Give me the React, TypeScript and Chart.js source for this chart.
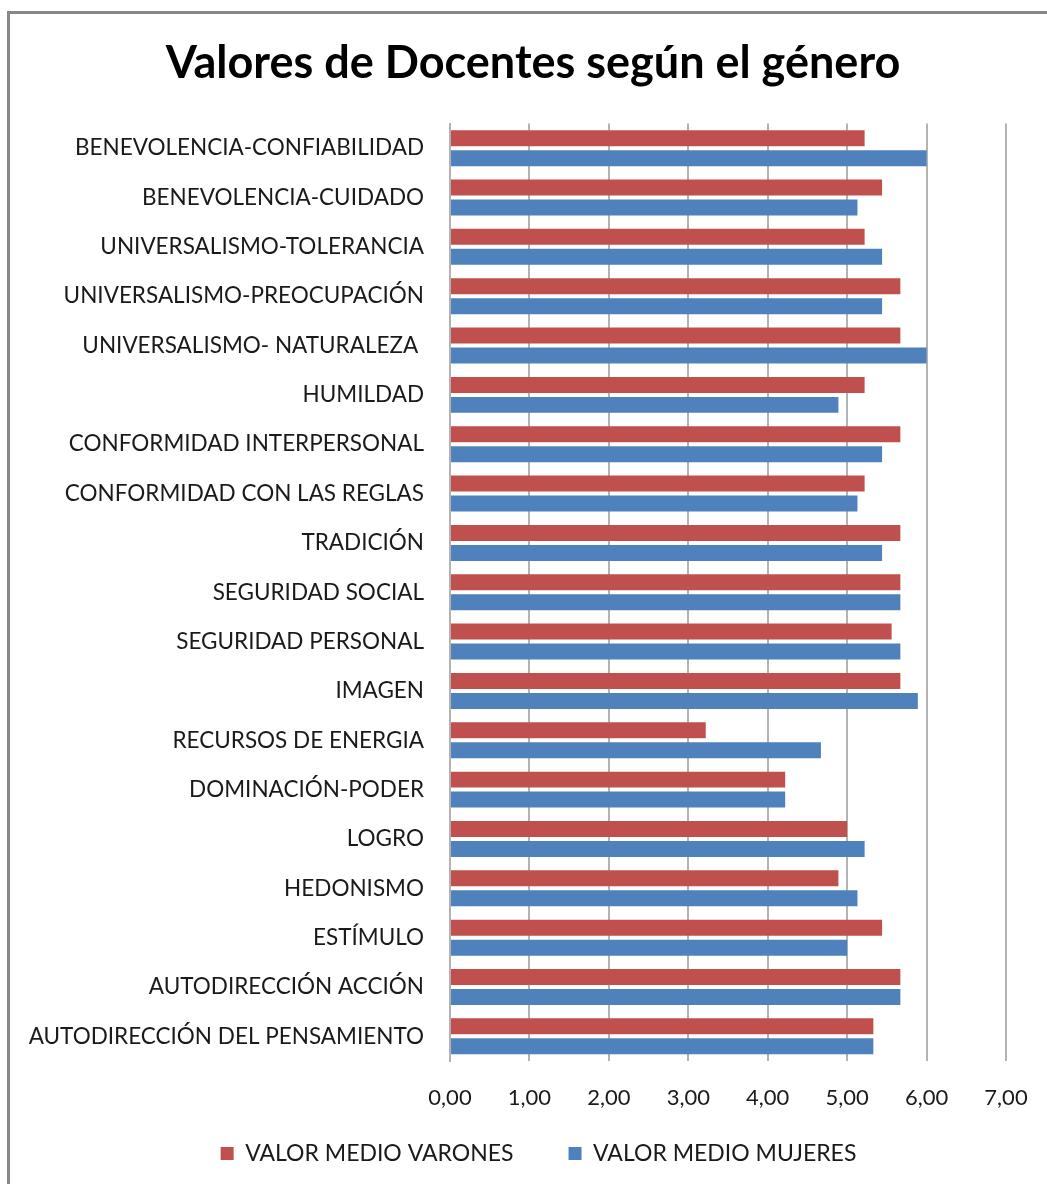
import React, { useEffect, useRef } from "react";
import { Chart, registerables } from "chart.js";

Chart.register(...registerables);

const TITLE = "Valores de Docentes según el género";

const categories = [
  "BENEVOLENCIA-CONFIABILIDAD",
  "BENEVOLENCIA-CUIDADO",
  "UNIVERSALISMO-TOLERANCIA",
  "UNIVERSALISMO-PREOCUPACIÓN",
  "UNIVERSALISMO- NATURALEZA ",
  "HUMILDAD",
  "CONFORMIDAD INTERPERSONAL",
  "CONFORMIDAD CON LAS REGLAS",
  "TRADICIÓN",
  "SEGURIDAD SOCIAL",
  "SEGURIDAD PERSONAL",
  "IMAGEN",
  "RECURSOS DE ENERGIA",
  "DOMINACIÓN-PODER",
  "LOGRO",
  "HEDONISMO",
  "ESTÍMULO",
  "AUTODIRECCIÓN ACCIÓN",
  "AUTODIRECCIÓN DEL PENSAMIENTO",
];

const seriesNames = ["VALOR MEDIO VARONES", "VALOR MEDIO MUJERES"];

const varones = [
  5.22, 5.44, 5.22, 5.67, 5.67, 5.22, 5.67, 5.22, 5.67, 5.67, 5.56, 5.67,
  3.22, 4.22, 5.0, 4.89, 5.44, 5.67, 5.33,
];

const mujeres = [
  6.0, 5.13, 5.44, 5.44, 6.0, 4.89, 5.44, 5.13, 5.44, 5.67, 5.67, 5.89,
  4.67, 4.22, 5.22, 5.13, 5.0, 5.67, 5.33,
];

const xMin = 0;
const xMax = 7;
const xStep = 1;

const FONT = "Lato, 'Open Sans', sans-serif";

const placeBoxes = {
  id: "placeBoxes",
  beforeDraw(chart: any) {
    const t = chart.titleBlock;
    if (t) {
      t.left = 56;
      t.right = 1010;
    }
    const l = chart.legend;
    if (l) {
      l.left = 71;
      l.right = 1006;
      l.top = 1087;
      l.bottom = 1184;
      l.height = 97;
    }
  },
};

export default function App() {
  const ref = useRef<HTMLCanvasElement | null>(null);

  useEffect(() => {
    if (!ref.current) return;
    const chart = new Chart(ref.current, {
      type: "bar",
      data: {
        labels: categories,
        datasets: [
          {
            label: seriesNames[0],
            data: varones,
            backgroundColor: "#C0504D",
            barPercentage: 0.8,
            categoryPercentage: 0.81,
          },
          {
            label: seriesNames[1],
            data: mujeres,
            backgroundColor: "#4F81BD",
            barPercentage: 0.8,
            categoryPercentage: 0.81,
          },
        ],
      },
      options: {
        indexAxis: "y",
        responsive: false,
        animation: false,
        layout: { padding: { left: 0, right: 41, top: 0, bottom: 18 } },
        scales: {
          x: {
            min: xMin,
            max: xMax,
            border: { display: false },
            grid: {
              color: "#b3b3b3",
              lineWidth: 2,
              drawTicks: false,
            },
            ticks: {
              stepSize: xStep,
              padding: 24,
              color: "#1a1a1a",
              font: { family: FONT, size: 22 },
              callback: (v: any) => Number(v).toFixed(2).replace(".", ","),
            },
            afterFit: (s: any) => {
              s.height = 55;
              s.paddingLeft = 0;
              s.paddingRight = 0;
            },
          },
          y: {
            border: { display: true, color: "#b3b3b3", width: 2 },
            grid: { display: false, drawTicks: false },
            ticks: {
              padding: 26,
              color: "#1a1a1a",
              font: { family: FONT, size: 22.5 },
              autoSkip: false,
            },
            afterFit: (s: any) => {
              s.width = 450;
            },
          },
        },
        plugins: {
          title: {
            display: true,
            text: TITLE,
            color: "#000",
            font: { family: FONT, size: 45, weight: "bold" },
            padding: { top: 36, bottom: 33.5 },
          },
          legend: {
            position: "bottom",
            maxHeight: 50,
            labels: {
              boxWidth: 13,
              boxHeight: 13,
              padding: 55,
              color: "#1a1a1a",
              font: { family: FONT, size: 23 },
            },
          },
          tooltip: { enabled: false },
        },
      },
      plugins: [placeBoxes],
    });
    return () => chart.destroy();
  }, []);

  return (
    <div
      style={{
        position: "fixed",
        left: 0,
        top: 0,
        width: 1047,
        height: 1184,
        overflow: "hidden",
        background: "#fff",
      }}
    >
      <canvas
        ref={ref}
        width={1047}
        height={1184}
        style={{ position: "absolute", left: 0, top: 0, width: 1047, height: 1184 }}
      />
      <div
        style={{
          position: "absolute",
          left: 7,
          top: 11,
          right: -20,
          bottom: -20,
          borderTop: "3px solid #878787",
          borderLeft: "3px solid #878787",
          pointerEvents: "none",
        }}
      />
    </div>
  );
}
